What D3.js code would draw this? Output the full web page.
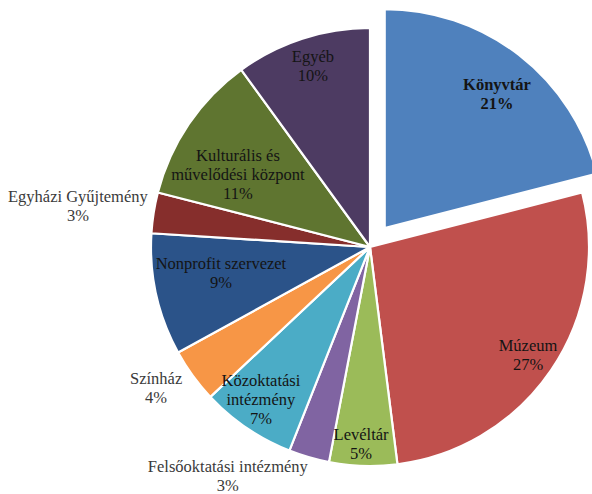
<!DOCTYPE html>
<html>
<head>
<meta charset="utf-8">
<script src="https://cdn.jsdelivr.net/npm/d3@7/dist/d3.min.js"></script>
<style>
  html, body { margin: 0; padding: 0; background: #ffffff; }
  svg { display: block; }
</style>
</head>
<body>
<svg id="chart" width="592" height="494"></svg>
<script>
// ---- data ----
const categories = [
  "Könyvtár", "Múzeum", "Levéltár", "Felsőoktatási intézmény",
  "Közoktatási intézmény", "Színház", "Nonprofit szervezet",
  "Egyházi Gyűjtemény", "Kulturális és művelődési központ", "Egyéb"
];
const values = [21, 27, 5, 3, 7, 4, 9, 3, 11, 10];
const percentLabels = ["21%", "27%", "5%", "3%", "7%", "4%", "9%", "3%", "11%", "10%"];

// ---- styling / layout ----
const colors = ["#4F81BD", "#C0504D", "#9BBB59", "#8064A2", "#4BACC6",
                "#F79646", "#2B5389", "#862E2C", "#5F7530", "#4D3B62"];
const nameLines = {
  "Közoktatási intézmény": ["Közoktatási", "intézmény"],
  "Kulturális és művelődési központ": ["Kulturális és", "művelődési központ"]
};
// label placement: [radius factor, angle nudge in degrees]
const labelPlace = [
  [0.798, 2.2], [0.874, 0.15], [0.90, 0.8], [1.232, 15.6], [0.858, 1.3],
  [1.170, 2.6], [0.691, 2.7], [1.347, -1.0], [0.687, -5.6], [0.867, 0.5]
];
const explode = [24, 0, 0, 0, 0, 0, 0, 0, 0, 0];
const cx = 370, cy = 247, R = 219;
const lineH = 19;
const FONT = "'Liberation Serif', 'Times New Roman', 'DejaVu Serif', serif";

const svg = d3.select("#chart");
const g = svg.append("g").attr("transform", `translate(${cx},${cy})`);

const pie = d3.pie().value(d => d).sort(null);
const arcs = pie(values);
const arc = d3.arc().innerRadius(0).outerRadius(R);

function offset(d, i) {
  const mid = (d.startAngle + d.endAngle) / 2;
  return [Math.sin(mid) * explode[i], -Math.cos(mid) * explode[i]];
}

g.selectAll("path.slice")
  .data(arcs)
  .join("path")
  .attr("class", "slice")
  .attr("d", arc)
  .attr("transform", (d, i) => { const o = offset(d, i); return `translate(${o[0]},${o[1]})`; })
  .attr("fill", (d, i) => colors[i])
  .attr("stroke", "#ffffff")
  .attr("stroke-width", 2.2)
  .attr("stroke-linejoin", "round");

g.selectAll("text.lbl")
  .data(arcs)
  .join("text")
  .attr("class", "lbl")
  .attr("text-anchor", "middle")
  .attr("font-family", FONT)
  .style("font-family", FONT)
  .attr("font-size", 16.5)
  .attr("font-weight", (d, i) => i === 0 ? "bold" : "normal")
  .attr("fill", (d, i) => labelPlace[i][0] > 1 ? "#3a3a3a" : "#141414")
  .each(function (d, i) {
    const o = offset(d, i);
    const mid = (d.startAngle + d.endAngle) / 2 + labelPlace[i][1] * Math.PI / 180;
    const r = R * labelPlace[i][0];
    const x = o[0] + Math.sin(mid) * r;
    const y = o[1] - Math.cos(mid) * r;
    const lines = (nameLines[categories[i]] || [categories[i]]).concat([percentLabels[i]]);
    const y0 = y - (lines.length - 1) * lineH / 2 + 5.5;
    const t = d3.select(this);
    lines.forEach((ln, k) => {
      t.append("tspan").attr("x", x).attr("y", y0 + k * lineH).text(ln);
    });
  });
</script>
</body>
</html>
